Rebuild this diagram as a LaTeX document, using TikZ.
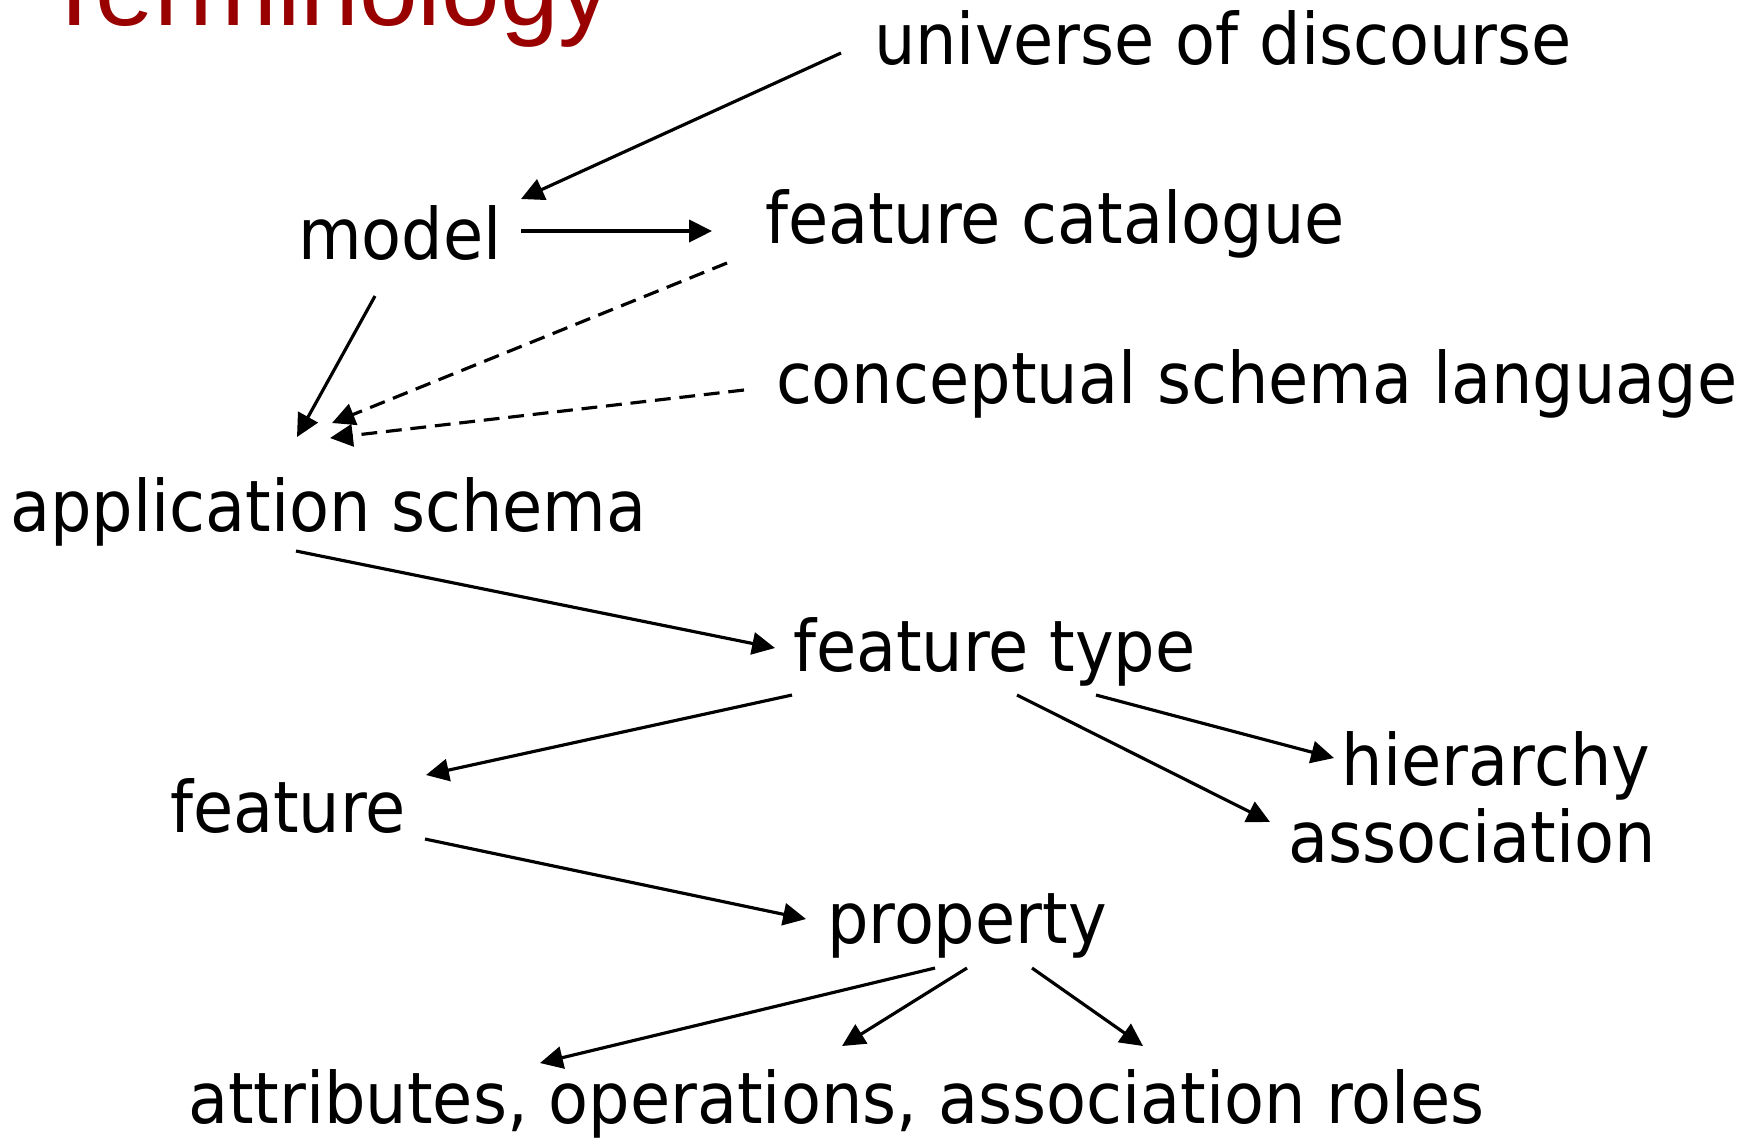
\documentclass[tikz,border=0pt]{standalone}
\usepackage{fontspec}
\setmainfont[FakeStretch=0.92]{DejaVu Sans}
\newfontfamily\titlefont{Liberation Sans}
\usetikzlibrary{arrows.meta}
\definecolor{titlered}{HTML}{990000}
\begin{document}
\begin{tikzpicture}[x=0.01cm,y=-0.01cm,
  lbl/.style={inner sep=0pt,outer sep=0pt,font=\fontsize{20.2}{24}\selectfont},
  conn/.style={line width=0.9pt,-{Triangle[length=6.5pt,width=6.3pt]}},
  dconn/.style={conn,dash pattern=on 4.5pt off 2.5pt}]
\useasboundingbox (0,0) rectangle (1752,1138);
\node[inner sep=0pt,anchor=base west,text=titlered,font=\titlefont\fontsize{30}{36}\selectfont] (title) at (42,25) {Terminology};
\node[lbl,anchor=base west] (univ) at (874,64) {universe of discourse};
\node[lbl,anchor=base west] (model) at (298,259) {model};
\node[lbl,anchor=base west] (fcat) at (765,243) {feature catalogue};
\node[lbl,anchor=base west] (csl) at (776,403) {conceptual schema language};
\node[lbl,anchor=base west] (app) at (10,531) {application schema};
\node[lbl,anchor=base west] (ftype) at (793,671) {feature type};
\node[lbl,anchor=base east] (hier) at (1650,785) {hierarchy};
\node[lbl,anchor=base east] (assoc) at (1656,862) {association};
\node[lbl,anchor=base west] (feat) at (170,832) {feature};
\node[lbl,anchor=base west] (prop) at (827,943) {property};
\node[lbl,anchor=base west] (attr) at (188,1123) {attributes, operations, association roles};

\draw[conn] ([shift={(-33,-11)}]univ.base west) -- ([shift={(223,-60)}]model.base west);
\draw[conn] ([shift={(223,-28)}]model.base west) -- ([shift={(-53,-12)}]fcat.base west);
\draw[conn] ([shift={(77,37)}]model.base west) -- ([shift={(287,-94)}]app.base west);
\draw[dconn] ([shift={(-38,20)}]fcat.base west) -- ([shift={(322,-108)}]app.base west);
\draw[dconn] ([shift={(-32,-13)}]csl.base west) -- ([shift={(320,-93)}]app.base west);
\draw[conn] ([shift={(286,20)}]app.base west) -- ([shift={(-18,-23)}]ftype.base west);
\draw[conn] ([shift={(-1,24)}]ftype.base west) -- ([shift={(256,-57)}]feat.base west);
\draw[conn] ([shift={(224,24)}]ftype.base west) -- ([shift={(-386,-40)}]assoc.base east);
\draw[conn] ([shift={(303,24)}]ftype.base west) -- ([shift={(-316,-27)}]hier.base east);
\draw[conn] ([shift={(255,7)}]feat.base west) -- ([shift={(-21,-24)}]prop.base west);
\draw[conn] ([shift={(108,25)}]prop.base west) -- ([shift={(352,-60)}]attr.base west);
\draw[conn] ([shift={(140,25)}]prop.base west) -- ([shift={(654,-77)}]attr.base west);
\draw[conn] ([shift={(205,25)}]prop.base west) -- ([shift={(955,-77)}]attr.base west);
\end{tikzpicture}
\end{document}
